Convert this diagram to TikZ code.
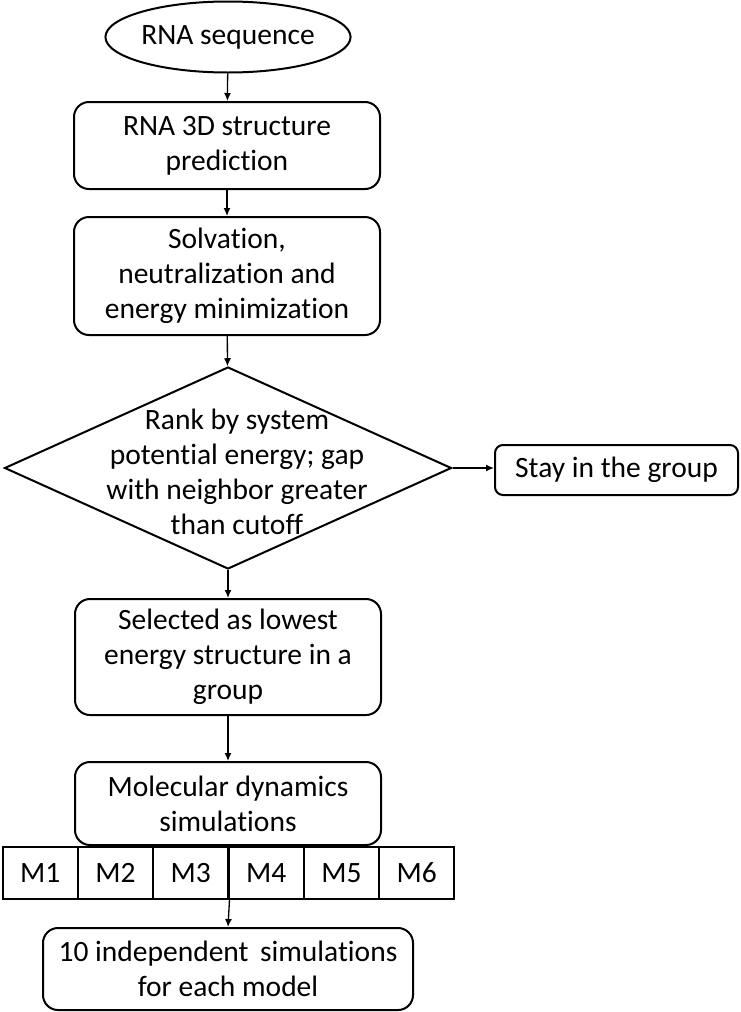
\documentclass[tikz,border=0pt]{standalone}
\usepackage{fontspec}
\setmainfont[Ligatures=NoCommon]{Carlito}
\usetikzlibrary{shapes.geometric, arrows.meta}
\tikzstyle{every node}=[font=\fontsize{29.5}{35}\selectfont, align=center]
\tikzstyle{terminal}=[ellipse, draw, line width=2pt, minimum width=215pt, minimum height=71pt, inner sep=0pt]
\tikzstyle{process}=[rectangle, draw, rounded corners=15pt, line width=2pt, minimum width=306pt, inner sep=0pt]
\tikzstyle{decision}=[diamond, draw, line width=2pt, minimum width=447pt, minimum height=202pt, inner sep=0pt]
\tikzstyle{model}=[rectangle, draw, line width=2pt, minimum width=75.33pt, minimum height=52pt, inner sep=0pt]
\tikzstyle{flow}=[-{Latex[length=8pt,width=7pt]}, line width=1.3pt]

\begin{document}
\begin{tikzpicture}[x=1pt, y=-1pt]
    \useasboundingbox (0,0) rectangle (740,1012);
% Pipeline
    \node[terminal] (seq) at (228,37) {RNA sequence};
    \node[process, minimum height=87pt] (pred) at (227,145.5) {RNA 3D structure\\prediction};
    \node[process, minimum height=118pt] (solv) at (227,276) {Solvation,\\neutralization and\\energy minimization};
    \node[decision, label={[xshift=9pt, yshift=-4pt]center:Rank by system\\potential energy; gap\\with neighbor greater\\than cutoff}] (rank) at (228,468) {};
    \node[process, minimum width=243pt, minimum height=50pt, rounded corners=8pt] (stay) at (616.5,470) {Stay in the group};
    \node[process, minimum height=116pt] (sel) at (228,657) {Selected as lowest\\energy structure in a\\group};
    \node[process, minimum height=83pt] (md) at (228,803.5) {Molecular dynamics\\simulations};
% Models
    \node[model] (m1) at (40.2,873) {M1};
    \node[model] (m2) at (115.5,873) {M2};
    \node[model] (m3) at (190.8,873) {M3};
    \node[model] (m4) at (266.2,873) {M4};
    \node[model] (m5) at (341.5,873) {M5};
    \node[model] (m6) at (416.8,873) {M6};
    \node[process, minimum width=370pt, minimum height=82pt] (ten) at (228,969) {10 independent\, simulations\\for each model};
% Arrows
    \draw[flow] (seq) -- (pred);
    \draw[flow] (pred) -- (solv);
    \draw[flow] (solv) -- (rank);
    \draw[flow] (rank.east) -- (rank.east -| stay.west);
    \draw[flow] (rank) -- (sel);
    \draw[flow] (sel) -- (md);
    \draw[flow] (m3.south east) -- (ten.north);
\end{tikzpicture}
\end{document}
